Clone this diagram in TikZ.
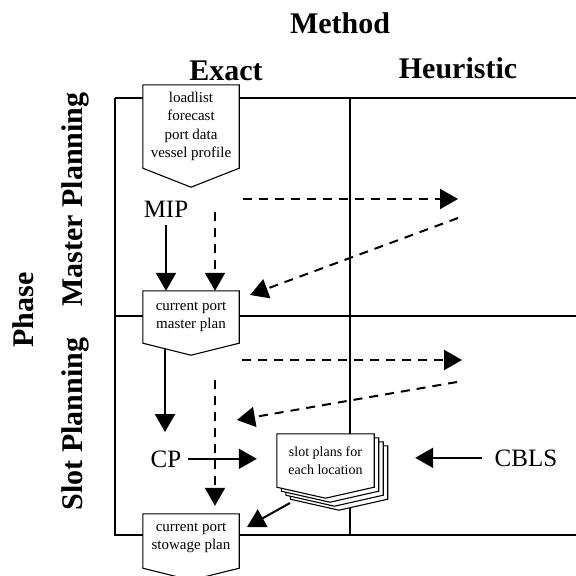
\documentclass[tikz,border=0pt]{standalone}
\usepackage{fontspec}
\setmainfont{Liberation Serif}
\usetikzlibrary{arrows.meta,calc}
\pgfdeclarelayer{gridlayer}
\pgfdeclarelayer{shapelayer}
\pgfsetlayers{gridlayer,shapelayer,main}
\begin{document}
\begin{tikzpicture}[x=1pt,y=-1pt,
  gridline/.style={line width=1.3pt},
  docshape/.style={draw, line width=1.1pt, fill=white},
  boxtext/.style={align=center, font=\fontsize{15}{18.5}\selectfont, inner sep=0pt, minimum width=96pt},
  slottext/.style={align=center, font=\fontsize{14}{18}\selectfont, inner sep=0pt, minimum width=97pt, minimum height=53pt},
  head/.style={font=\fontsize{30}{34}\selectfont\bfseries, inner sep=0pt, anchor=base},
  methodlabel/.style={font=\fontsize{25}{28}\selectfont, inner sep=0pt, anchor=base},
  solidarrow/.style={line width=2pt, -{Triangle[length=18pt,width=20pt]}},
  dasharrow/.style={solidarrow, dash pattern=on 9pt off 7pt},
]
\useasboundingbox (0,0) rectangle (576,576);
\clip (0,0) rectangle (576,576);

% headings
\node[head] (method) at (340,33) {Method};
\node[head] (exact) at (226,80) {Exact};
\node[head] (heur) at (458,78) {Heuristic};
\node[head, rotate=90] (phase) at (33,310) {Phase};
\node[head, rotate=90] (master) at (82,199.5) {Master Planning};
\node[head, rotate=90] (slotph) at (82,424) {Slot Planning};

% grid
\begin{pgfonlayer}{gridlayer}
\draw[gridline] (115,98) -- (576,98);
\draw[gridline] (115,98) -- (115,535) -- (576,535);
\draw[gridline] (350,98) -- (350,535);
\draw[gridline] (115,316) -- (576,316);
\end{pgfonlayer}

% boxes
\node[boxtext, minimum height=83pt] (load) at (191,126.5) {loadlist\\forecast\\port data\\vessel profile};
\node[boxtext, minimum height=52pt] (mp) at (191,317) {current port\\master plan};
\node[boxtext, minimum height=54pt] (sp) at (191,538) {current port\\stowage plan};
\node[slottext] (slot) at (325.5,460.5) {slot plans for\\each location};

\begin{pgfonlayer}{shapelayer}
\draw[docshape] (load.north west) -- (load.north east) -- (load.south east) -- ($(load.south)+(0,19)$) -- (load.south west) -- cycle;
\draw[docshape] (mp.north west) -- (mp.north east) -- (mp.south east) -- ($(mp.south)+(0,12)$) -- (mp.south west) -- cycle;
\draw[docshape] ($(sp.north west)+(0,3)$) -- ($(sp.north east)+(0,3)$) -- ($(sp.south east)+(0,3)$) -- ($(sp.south)+(0,15)$) -- ($(sp.south west)+(0,3)$) -- cycle;
\foreach \k in {3,2,1,0}{
  \draw[docshape] ($(slot.north west)+(4.5*\k,4*\k)$) -- ($(slot.north east)+(4.5*\k,4*\k)$) -- ($(slot.south east)+(4.5*\k,4*\k)$) -- ($(slot.south)+(4.5*\k,11+4*\k)$) -- ($(slot.south west)+(4.5*\k,4*\k)$) -- cycle;
}
\end{pgfonlayer}

% method labels
\node[methodlabel] (mip) at (166,217) {MIP};
\node[methodlabel] (cp) at (166,467) {CP};
\node[methodlabel] (cbls) at (526,466) {CBLS};

% free ends
\coordinate (d1s) at (215,212);
\coordinate (h1s) at (243,199);
\coordinate (h1e) at (458,199);
\coordinate (g1s) at (458,218);
\coordinate (g1e) at (250,295);
\coordinate (a5s) at (165,348);
\coordinate (a5e) at (165,432);
\coordinate (h2s) at (242,360);
\coordinate (h2e) at (462,360);
\coordinate (g2s) at (457,382);
\coordinate (g2e) at (237,420);
\coordinate (d2s) at (215,380);
\coordinate (s2s) at (290,503);
\coordinate (s2e) at (247,527);

% connectors
\draw[solidarrow] ([yshift=-8pt]mip.south) -- (mip.south |- mp.north);
\draw[dasharrow] (d1s) -- (d1s |- mp.north);
\draw[dasharrow] (h1s) -- (h1e);
\draw[dasharrow] (g1s) -- (g1e);
\draw[solidarrow] (a5s) -- (a5e);
\draw[dasharrow] (h2s) -- (h2e);
\draw[dasharrow] (g2s) -- (g2e);
\draw[solidarrow] ([xshift=7pt]cp.east) -- ([xshift=-20pt]slot.west |- cp.east);
\draw[dasharrow] (d2s) -- ([yshift=5pt]d2s |- sp.north);
\draw[solidarrow] (s2s) -- (s2e);
\draw[solidarrow] ([xshift=-13pt]cbls.west) -- ([xshift=41pt]slot.east |- cbls.west);
\end{tikzpicture}
\end{document}
